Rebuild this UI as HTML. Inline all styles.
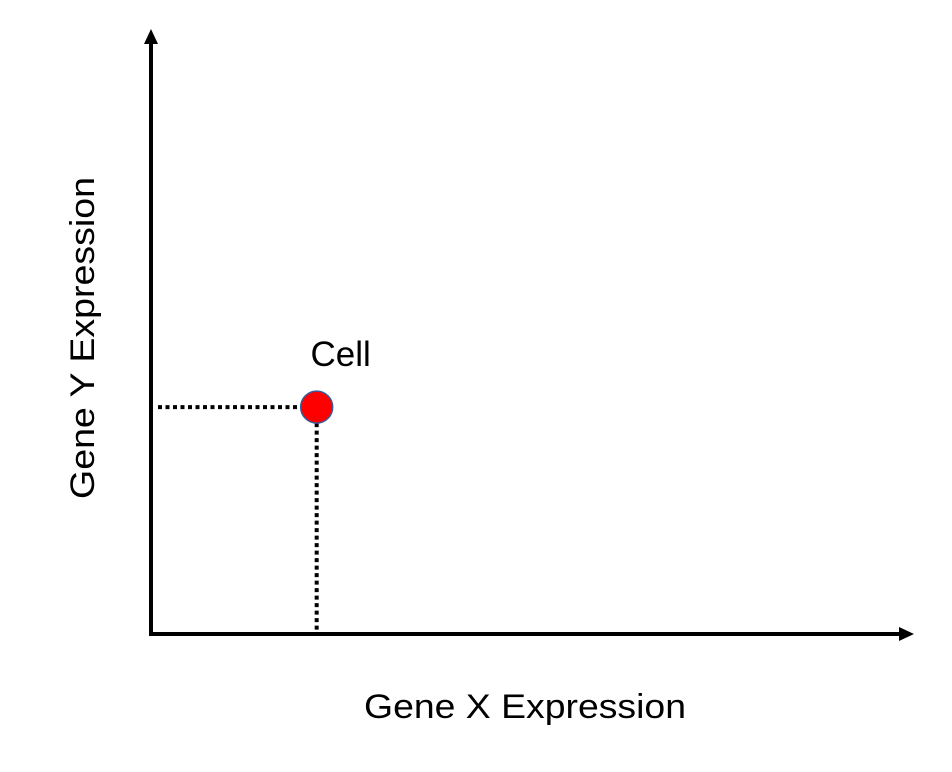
<!DOCTYPE html>
<html><head><meta charset="utf-8"><style>
html,body{margin:0;padding:0;background:#fff;}
svg{display:block;}
text{font-family:"Liberation Sans",sans-serif;fill:#000;}
</style></head><body>
<svg id="chart" width="952" height="772">
  <line x1="151" y1="635" x2="151" y2="42" stroke="#000" stroke-width="4"/>
  <polygon points="151,29 144,44 158,44" fill="#000"/>
  <line x1="149" y1="634" x2="901" y2="634" stroke="#000" stroke-width="4"/>
  <polygon points="914,634 899,627 899,641" fill="#000"/>
  <g id="marks"></g>
  <text x="525" y="718" font-size="34" text-anchor="middle" textLength="322" lengthAdjust="spacingAndGlyphs">Gene X Expression</text>
  <text transform="translate(94,338) rotate(-90)" font-size="34" text-anchor="middle" textLength="322" lengthAdjust="spacingAndGlyphs">Gene Y Expression</text>
</svg>
<script>
const cellLabels = ["Cell"];
const geneX = [2.18];
const geneY = [3.81];
function xScale(v){ return 151 + v * 76; }
function yScale(v){ return 633 - v * 59.3; }
const NS = "http://www.w3.org/2000/svg";
const g = document.getElementById("marks");
for (let i = 0; i < geneX.length; i++) {
  const cx = xScale(geneX[i]), cy = yScale(geneY[i]);
  const h = document.createElementNS(NS, "line");
  h.setAttribute("x1", 158); h.setAttribute("y1", cy);
  h.setAttribute("x2", cx - 16); h.setAttribute("y2", cy);
  h.setAttribute("stroke", "#000"); h.setAttribute("stroke-width", "4");
  h.setAttribute("stroke-dasharray", "4 3.5");
  
  
  g.appendChild(h);
  const v = document.createElementNS(NS, "line");
  v.setAttribute("x1", cx); v.setAttribute("y1", cy + 16);
  v.setAttribute("x2", cx); v.setAttribute("y2", 632);
  v.setAttribute("stroke", "#000"); v.setAttribute("stroke-width", "4");
  v.setAttribute("stroke-dasharray", "4 3.5");
  
  
  g.appendChild(v);
  const c = document.createElementNS(NS, "circle");
  c.setAttribute("cx", cx); c.setAttribute("cy", cy); c.setAttribute("r", 16);
  c.setAttribute("fill", "#ff0000"); c.setAttribute("stroke", "#3a5a9a"); c.setAttribute("stroke-width", "1.5");
  
  
  g.appendChild(c);
  const t = document.createElementNS(NS, "text");
  t.setAttribute("x", cx + 24); t.setAttribute("y", cy - 41);
  t.setAttribute("font-size", "35"); t.setAttribute("text-anchor", "middle");
  t.textContent = cellLabels[i];
  
  
  g.appendChild(t);
}
</script>
</body></html>
